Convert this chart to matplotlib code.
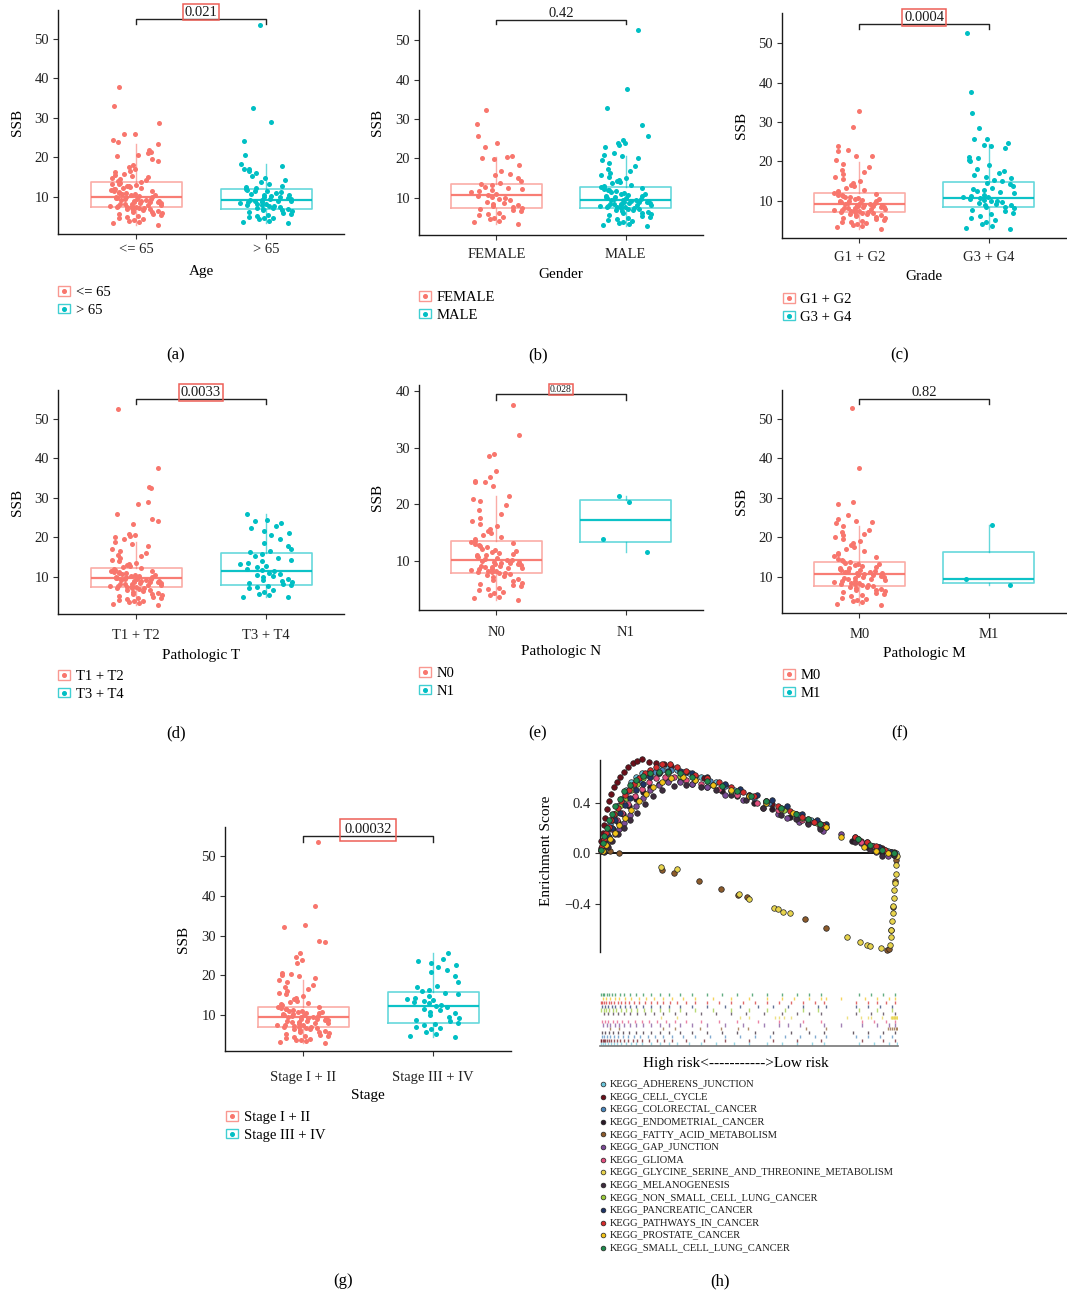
import numpy as np
import matplotlib.pyplot as plt
from matplotlib.patches import Patch
from matplotlib.lines import Line2D
from matplotlib.legend_handler import HandlerTuple

plt.rcParams['font.family'] = ['Liberation Serif', 'DejaVu Serif']

W, H = 1067, 1295
RED, TEAL = '#F8766D', '#00BFC4'
PRED = '#EE5F57'


def vals(s):
    return np.array(s.split(), float)


# ---------------- box panels: SSB values per group + box stats (lo, q1, med, q3, hi)
a_groups = ["<= 65", "> 65"]
a_pts = [vals("3.0 3.3 3.6 4.0 4.2 4.5 4.7 5.0 5.1 5.4 5.6 5.8 6.0 6.1 6.3 6.5 6.6 6.8 6.9 7.0 7.1 7.2 7.3 7.4 7.5 7.5 7.6 7.7 7.8 7.9 8.0 8.1 8.2 8.3 8.4 8.5 8.6 8.7 8.8 8.9 9.0 9.1 9.2 9.3 9.4 9.5 9.6 9.7 9.8 9.9 10.0 10.1 10.2 10.4 10.5 10.7 10.8 11.0 11.1 11.3 11.4 11.6 11.7 11.9 12.0 12.2 12.3 12.5 12.7 12.9 13.0 13.2 13.4 13.6 13.8 14.0 14.2 14.5 14.8 15.0 15.3 15.6 15.9 16.2 16.6 17.0 17.5 18.0 19.0 19.6 20.3 20.7 21.1 21.5 22.0 23.3 24.0 24.3 25.9 26.0 28.6 33.0 37.8"),
         vals("3.3 3.7 4.0 4.3 4.6 4.8 5.0 5.3 5.5 5.8 6.0 6.2 6.4 6.6 6.8 6.9 7.0 7.1 7.3 7.4 7.6 7.7 7.9 8.0 8.2 8.3 8.5 8.6 8.8 8.9 9.0 9.1 9.2 9.3 9.5 9.6 9.8 9.9 10.1 10.2 10.4 10.6 10.8 11.0 11.2 11.4 11.6 11.8 11.9 12.2 12.5 12.9 13.3 13.8 14.3 14.8 15.3 16.0 16.5 17.0 17.2 17.8 18.3 20.6 24.2 29.0 32.5 53.5")]
a_box = [(2.9, 7.5, 10.0, 13.7, 23.4), (3.3, 6.9, 9.2, 11.9, 18.3)]

b_groups = ["FEMALE", "MALE"]
b_pts = [vals("3.5 3.9 4.3 4.6 4.9 5.2 5.6 6.0 6.3 6.6 6.9 7.2 7.4 7.6 7.9 8.2 8.5 8.8 9.1 9.4 9.7 10.0 10.3 10.6 10.8 11.1 11.4 11.7 12.0 12.3 12.6 12.9 13.2 13.5 13.8 14.3 15.0 15.7 16.2 16.8 18.3 19.8 20.2 20.4 20.6 23.0 24.0 25.8 28.8 32.3"),
         vals("2.8 3.1 3.4 3.7 4.0 4.3 4.5 4.8 5.0 5.3 5.5 5.7 5.9 6.1 6.3 6.5 6.7 6.9 7.0 7.2 7.3 7.4 7.5 7.6 7.7 7.8 7.9 8.0 8.1 8.2 8.3 8.4 8.5 8.6 8.7 8.8 8.9 9.0 9.1 9.2 9.3 9.4 9.5 9.6 9.7 9.8 9.9 10.0 10.2 10.3 10.5 10.6 10.8 10.9 11.1 11.3 11.5 11.7 11.9 12.1 12.3 12.5 12.7 12.9 13.1 13.4 13.7 14.0 14.3 14.6 15.0 15.4 15.8 16.3 16.8 17.3 18.0 18.8 19.5 20.1 20.7 21.0 21.5 23.0 23.3 23.8 24.0 24.6 25.7 28.5 32.8 37.6 52.6")]
b_box = [(3.5, 7.5, 10.7, 13.6, 20.5), (2.8, 7.5, 9.6, 12.8, 20.7)]

c_groups = ["G1 + G2", "G3 + G4"]
c_pts = [vals("3.0 3.3 3.6 3.9 4.2 4.4 4.6 4.8 5.0 5.2 5.4 5.6 5.8 6.0 6.2 6.4 6.5 6.7 6.8 6.9 7.0 7.1 7.2 7.3 7.4 7.5 7.6 7.7 7.8 7.9 8.0 8.1 8.2 8.3 8.4 8.5 8.6 8.7 8.8 8.9 9.0 9.1 9.2 9.3 9.4 9.5 9.6 9.7 9.8 9.9 10.0 10.1 10.3 10.4 10.6 10.7 10.9 11.0 11.2 11.4 11.6 11.8 12.0 12.3 12.6 12.9 13.3 13.7 14.1 14.6 15.1 15.6 16.2 16.8 17.3 17.8 18.6 19.3 20.5 21.3 21.4 22.7 23.0 24.0 28.8 32.7"),
         vals("3.0 3.2 3.6 4.2 4.8 5.3 5.8 6.2 6.6 7.0 7.4 7.8 8.1 8.4 8.6 8.9 9.1 9.3 9.5 9.7 9.9 10.1 10.3 10.5 10.7 10.9 11.1 11.3 11.6 11.9 12.2 12.5 12.8 13.1 13.4 13.8 14.2 14.6 15.0 15.4 15.8 16.2 16.6 17.0 17.5 18.0 19.0 20.0 20.4 20.8 21.2 23.3 23.9 24.1 24.6 25.7 25.7 28.4 32.2 37.5 52.5")]
c_box = [(3.0, 7.1, 9.3, 11.9, 19.8), (3.0, 8.4, 10.8, 14.9, 24.4)]

d_groups = ["T1 + T2", "T3 + T4"]
d_pts = [vals("3.0 3.2 3.4 3.6 3.8 4.0 4.2 4.4 4.6 4.8 5.0 5.2 5.4 5.6 5.8 6.0 6.2 6.4 6.6 6.8 7.0 7.1 7.2 7.3 7.4 7.5 7.6 7.7 7.8 7.9 8.0 8.1 8.2 8.3 8.4 8.5 8.6 8.7 8.8 8.9 9.0 9.1 9.2 9.3 9.4 9.5 9.6 9.7 9.8 9.9 10.0 10.1 10.2 10.3 10.5 10.6 10.7 10.9 11.0 11.2 11.3 11.5 11.6 11.8 12.0 12.2 12.4 12.7 13.0 13.3 13.6 14.0 14.4 14.8 15.2 15.6 16.1 16.6 17.2 17.8 18.4 18.9 19.5 20.0 20.4 20.6 20.9 23.4 24.2 24.6 25.9 28.5 28.9 32.4 32.7 37.6 52.5"),
         vals("4.9 5.0 5.4 5.8 6.3 6.8 7.1 7.4 7.7 7.9 8.1 8.4 8.7 9.0 9.3 9.6 9.9 10.2 10.5 10.8 11.1 11.4 11.7 12.0 12.4 12.8 13.2 13.6 14.0 14.4 14.8 15.3 15.8 16.2 16.6 17.2 17.8 18.5 19.5 20.7 21.2 21.6 22.5 23.0 23.7 24.1 24.3 26.0")]
d_box = [(3.0, 7.5, 9.7, 12.2, 18.9), (4.9, 8.0, 11.4, 16.0, 26.0)]

e_groups = ["N0", "N1"]
e_pts = [vals("3.1 3.4 3.6 4.0 4.3 4.6 4.8 5.0 5.3 5.6 5.8 6.0 6.2 6.5 6.7 6.9 7.1 7.3 7.5 7.7 7.8 7.9 8.0 8.1 8.2 8.3 8.4 8.5 8.6 8.7 8.8 8.9 9.0 9.1 9.2 9.3 9.4 9.5 9.6 9.7 9.8 9.9 10.0 10.1 10.2 10.4 10.5 10.7 10.8 11.0 11.1 11.3 11.4 11.6 11.8 12.0 12.2 12.4 12.6 12.8 13.0 13.2 13.4 13.6 13.9 14.2 14.5 14.9 15.3 15.7 16.1 16.6 17.1 17.6 18.3 19.0 19.8 20.5 21.0 21.5 23.2 23.9 24.0 24.2 24.8 25.9 28.5 28.9 32.3 37.6"),
         vals("11.6 13.9 20.4 21.5")]
e_box = [(3.1, 7.9, 10.1, 13.6, 21.5), (11.6, 13.3, 17.2, 20.7, 21.5)]

f_groups = ["M0", "M1"]
f_pts = [vals("3.0 3.3 3.6 3.9 4.2 4.5 4.8 5.1 5.4 5.7 6.0 6.2 6.4 6.6 6.8 7.0 7.2 7.4 7.6 7.8 7.9 8.0 8.2 8.3 8.5 8.6 8.8 8.9 9.1 9.2 9.4 9.5 9.7 9.8 10.0 10.1 10.3 10.4 10.6 10.7 10.9 11.0 11.2 11.3 11.5 11.6 11.8 11.9 12.1 12.2 12.4 12.6 12.8 13.0 13.2 13.4 13.6 13.8 14.0 14.3 14.6 15.0 15.4 15.8 16.2 16.6 17.0 17.5 18.0 18.5 19.0 19.6 20.2 20.6 21.0 21.4 22.0 22.9 23.7 24.0 24.2 24.7 25.8 28.5 28.9 37.6 52.8"),
         vals("7.9 9.4 23.1")]
f_box = [(3.0, 7.8, 10.7, 13.8, 22.9), (7.9, 8.6, 9.4, 16.3, 23.1)]

g_groups = ["Stage I + II", "Stage III + IV"]
g_pts = [vals("3.0 3.2 3.4 3.6 3.8 4.0 4.2 4.4 4.6 4.8 5.0 5.2 5.4 5.6 5.8 6.0 6.2 6.4 6.5 6.7 6.8 6.9 7.0 7.1 7.2 7.4 7.5 7.6 7.8 7.9 8.0 8.2 8.3 8.4 8.6 8.7 8.8 9.0 9.1 9.2 9.3 9.4 9.5 9.6 9.7 9.8 9.9 10.0 10.1 10.2 10.3 10.4 10.6 10.7 10.8 11.0 11.1 11.2 11.4 11.5 11.7 11.9 12.1 12.4 12.7 13.0 13.3 13.6 14.0 14.4 14.8 15.2 15.6 16.0 16.5 17.0 17.6 18.2 18.8 19.3 19.7 20.1 20.4 20.6 23.2 23.8 24.5 25.6 28.3 28.7 32.1 32.6 37.5 53.5"),
         vals("4.4 4.7 5.2 5.8 6.4 6.8 7.1 7.4 7.7 8.0 8.4 8.8 9.2 9.6 10.0 10.4 10.8 11.2 11.6 12.0 12.3 12.6 12.9 13.2 13.5 13.8 14.1 14.4 14.8 15.2 15.6 16.0 16.4 17.0 17.4 18.2 19.8 20.8 21.3 22.0 22.6 23.1 23.6 24.0 25.6")]
g_box = [(3.0, 7.0, 9.5, 11.9, 18.8), (4.4, 7.9, 12.3, 15.7, 25.7)]

# ---------------- GSEA panel: hit positions (rank fraction) and running enrichment score
kegg_names = ["KEGG_ADHERENS_JUNCTION", "KEGG_CELL_CYCLE", "KEGG_COLORECTAL_CANCER",
              "KEGG_ENDOMETRIAL_CANCER", "KEGG_FATTY_ACID_METABOLISM", "KEGG_GAP_JUNCTION",
              "KEGG_GLIOMA", "KEGG_GLYCINE_SERINE_AND_THREONINE_METABOLISM", "KEGG_MELANOGENESIS",
              "KEGG_NON_SMALL_CELL_LUNG_CANCER", "KEGG_PANCREATIC_CANCER", "KEGG_PATHWAYS_IN_CANCER",
              "KEGG_PROSTATE_CANCER", "KEGG_SMALL_CELL_LUNG_CANCER"]
kegg_colors = ['#6CC5DA', '#6B0F1A', '#4A86BC', '#2B1A28', '#8B5A2B', '#7B4A96', '#E34F7F',
               '#E8D44D', '#3D2B3D', '#9BCB3B', '#1E3466', '#D42B2B', '#F2C318', '#1F8A4C']

x_adherens = [0.004, 0.01, 0.018, 0.027, 0.036, 0.046, 0.058, 0.072, 0.088, 0.105, 0.122, 0.14, 0.17, 0.2, 0.23, 0.26, 0.3, 0.34, 0.39, 0.45, 0.5, 0.56, 0.61, 0.66, 0.71, 0.75, 0.87, 0.92, 0.97, 0.995]
es_adherens = [0.03, 0.08, 0.14, 0.2, 0.26, 0.31, 0.37, 0.43, 0.5, 0.56, 0.6, 0.63, 0.65, 0.67, 0.67, 0.66, 0.63, 0.6, 0.56, 0.5, 0.46, 0.41, 0.36, 0.31, 0.26, 0.22, 0.11, 0.06, 0.02, 0.0]
x_cellcycle = [0.002, 0.005, 0.009, 0.013, 0.018, 0.024, 0.03, 0.038, 0.046, 0.056, 0.067, 0.08, 0.095, 0.11, 0.125, 0.14, 0.165, 0.19, 0.215, 0.24, 0.29, 0.35, 0.42, 0.5, 0.58, 0.66, 0.74, 0.88, 0.95, 0.99]
es_cellcycle = [0.04, 0.1, 0.16, 0.22, 0.28, 0.35, 0.41, 0.47, 0.52, 0.56, 0.6, 0.64, 0.68, 0.71, 0.73, 0.74, 0.72, 0.71, 0.7, 0.69, 0.64, 0.59, 0.54, 0.46, 0.39, 0.31, 0.23, 0.1, 0.04, 0.01]
x_colorectal = [0.006, 0.014, 0.024, 0.035, 0.048, 0.062, 0.078, 0.095, 0.115, 0.135, 0.16, 0.185, 0.21, 0.24, 0.28, 0.32, 0.37, 0.42, 0.47, 0.52, 0.57, 0.62, 0.67, 0.72, 0.76, 0.86, 0.9, 0.94, 0.98]
es_colorectal = [0.03, 0.09, 0.16, 0.23, 0.3, 0.37, 0.43, 0.49, 0.54, 0.58, 0.62, 0.64, 0.66, 0.66, 0.64, 0.61, 0.57, 0.53, 0.49, 0.44, 0.4, 0.35, 0.3, 0.25, 0.21, 0.12, 0.08, 0.05, 0.01]
x_endometrial = [0.008, 0.018, 0.03, 0.044, 0.06, 0.078, 0.098, 0.12, 0.145, 0.17, 0.2, 0.23, 0.27, 0.31, 0.36, 0.41, 0.46, 0.52, 0.58, 0.64, 0.7, 0.75, 0.85, 0.9, 0.95, 0.99]
es_endometrial = [0.02, 0.07, 0.13, 0.19, 0.25, 0.31, 0.37, 0.43, 0.48, 0.52, 0.55, 0.57, 0.57, 0.55, 0.52, 0.49, 0.45, 0.4, 0.35, 0.29, 0.24, 0.2, 0.1, 0.05, 0.0, -0.01]
x_fatty = [0.034, 0.065, 0.21, 0.25, 0.334, 0.406, 0.464, 0.496, 0.69, 0.76, 0.965, 0.974, 0.98, 0.986, 0.992, 0.997]
es_fatty = [0.018, 0.0, -0.13, -0.156, -0.22, -0.28, -0.325, -0.34, -0.515, -0.59, -0.76, -0.75, -0.6, -0.42, -0.22, -0.05]
x_gap = [0.01, 0.022, 0.035, 0.05, 0.065, 0.08, 0.1, 0.12, 0.145, 0.17, 0.2, 0.23, 0.27, 0.31, 0.36, 0.42, 0.48, 0.55, 0.6, 0.63, 0.67, 0.75, 0.81, 0.88, 0.93, 0.97, 0.99]
es_gap = [0.02, 0.06, 0.1, 0.15, 0.19, 0.24, 0.3, 0.37, 0.44, 0.5, 0.54, 0.56, 0.56, 0.55, 0.52, 0.46, 0.42, 0.36, 0.31, 0.28, 0.25, 0.18, 0.15, 0.08, 0.01, -0.02, -0.01]
x_glioma = [0.006, 0.016, 0.028, 0.042, 0.058, 0.075, 0.095, 0.118, 0.14, 0.165, 0.19, 0.22, 0.25, 0.29, 0.34, 0.4, 0.46, 0.53, 0.6, 0.68, 0.74, 0.88, 0.92, 0.96, 0.99]
es_glioma = [0.02, 0.07, 0.13, 0.19, 0.26, 0.32, 0.39, 0.45, 0.51, 0.56, 0.59, 0.6, 0.6, 0.58, 0.55, 0.51, 0.46, 0.4, 0.34, 0.26, 0.21, 0.09, 0.06, 0.03, 0.0]
x_glycine = [0.205, 0.258, 0.469, 0.5, 0.587, 0.6, 0.617, 0.64, 0.83, 0.875, 0.9, 0.91, 0.945, 0.977, 0.979, 0.981, 0.983, 0.985, 0.987, 0.989, 0.991, 0.993, 0.995, 0.997, 0.999]
es_glycine = [-0.106, -0.12, -0.32, -0.355, -0.43, -0.44, -0.46, -0.47, -0.66, -0.7, -0.72, -0.725, -0.74, -0.72, -0.66, -0.6, -0.53, -0.47, -0.41, -0.35, -0.29, -0.23, -0.16, -0.09, -0.02]
x_melano = [0.012, 0.026, 0.042, 0.06, 0.08, 0.1, 0.125, 0.15, 0.18, 0.21, 0.25, 0.29, 0.34, 0.39, 0.44, 0.49, 0.55, 0.61, 0.66, 0.7, 0.74, 0.86, 0.91, 0.95, 0.99]
es_melano = [0.01, 0.05, 0.1, 0.15, 0.2, 0.26, 0.32, 0.39, 0.45, 0.5, 0.53, 0.54, 0.52, 0.5, 0.46, 0.42, 0.36, 0.3, 0.27, 0.23, 0.19, 0.09, 0.03, -0.02, -0.01]
x_nsclc = [0.005, 0.012, 0.021, 0.031, 0.042, 0.055, 0.07, 0.086, 0.104, 0.124, 0.146, 0.17, 0.2, 0.23, 0.27, 0.32, 0.38, 0.44, 0.5, 0.56, 0.62, 0.68, 0.73, 0.87, 0.93, 0.98]
es_nsclc = [0.03, 0.08, 0.14, 0.2, 0.26, 0.32, 0.38, 0.44, 0.5, 0.55, 0.59, 0.62, 0.63, 0.63, 0.61, 0.58, 0.54, 0.49, 0.45, 0.4, 0.34, 0.28, 0.24, 0.11, 0.05, 0.01]
x_pancreatic = [0.007, 0.016, 0.027, 0.039, 0.052, 0.067, 0.084, 0.102, 0.122, 0.145, 0.17, 0.2, 0.23, 0.27, 0.31, 0.36, 0.42, 0.47, 0.53, 0.58, 0.63, 0.68, 0.73, 0.76, 0.86, 0.9, 0.94, 0.98]
es_pancreatic = [0.03, 0.08, 0.14, 0.2, 0.26, 0.32, 0.38, 0.44, 0.5, 0.55, 0.6, 0.63, 0.65, 0.65, 0.63, 0.6, 0.55, 0.51, 0.46, 0.42, 0.37, 0.31, 0.26, 0.23, 0.13, 0.09, 0.05, 0.01]
x_pathways = [0.003, 0.008, 0.014, 0.021, 0.029, 0.038, 0.048, 0.059, 0.071, 0.084, 0.098, 0.113, 0.13, 0.15, 0.17, 0.19, 0.21, 0.235, 0.26, 0.29, 0.32, 0.36, 0.4, 0.44, 0.48, 0.52, 0.56, 0.6, 0.64, 0.68, 0.72, 0.75, 0.86, 0.9, 0.93, 0.96, 0.99]
es_pathways = [0.02, 0.06, 0.11, 0.16, 0.21, 0.26, 0.31, 0.36, 0.41, 0.46, 0.5, 0.55, 0.59, 0.63, 0.66, 0.68, 0.7, 0.7, 0.68, 0.65, 0.62, 0.59, 0.56, 0.52, 0.48, 0.45, 0.41, 0.37, 0.33, 0.29, 0.25, 0.22, 0.13, 0.09, 0.06, 0.03, 0.0]
x_prostate = [0.01, 0.02, 0.035, 0.05, 0.065, 0.085, 0.105, 0.13, 0.155, 0.18, 0.21, 0.24, 0.28, 0.32, 0.38, 0.44, 0.5, 0.56, 0.61, 0.65, 0.7, 0.74, 0.76, 0.81, 0.89, 0.93, 0.97, 0.99]
es_prostate = [0.02, 0.07, 0.11, 0.16, 0.22, 0.28, 0.34, 0.41, 0.47, 0.52, 0.56, 0.59, 0.6, 0.58, 0.54, 0.5, 0.45, 0.4, 0.35, 0.32, 0.27, 0.23, 0.21, 0.13, 0.05, 0.02, 0.0, 0.0]
x_sclc = [0.004, 0.009, 0.015, 0.022, 0.03, 0.04, 0.052, 0.066, 0.082, 0.1, 0.12, 0.145, 0.17, 0.2, 0.23, 0.27, 0.31, 0.36, 0.41, 0.46, 0.51, 0.56, 0.61, 0.66, 0.7, 0.74, 0.87, 0.91, 0.95, 0.99]
es_sclc = [0.03, 0.08, 0.14, 0.2, 0.26, 0.31, 0.37, 0.43, 0.49, 0.54, 0.58, 0.61, 0.63, 0.64, 0.64, 0.63, 0.6, 0.57, 0.53, 0.49, 0.45, 0.41, 0.36, 0.31, 0.27, 0.23, 0.11, 0.07, 0.03, 0.0]

kegg_x = [x_adherens, x_cellcycle, x_colorectal, x_endometrial, x_fatty, x_gap, x_glioma,
          x_glycine, x_melano, x_nsclc, x_pancreatic, x_pathways, x_prostate, x_sclc]
kegg_es = [es_adherens, es_cellcycle, es_colorectal, es_endometrial, es_fatty, es_gap, es_glioma,
           es_glycine, es_melano, es_nsclc, es_pancreatic, es_pathways, es_prostate, es_sclc]
es_ticks = [-0.4, 0.0, 0.4]
es_ticklabels = ["\u22120.4", "0.0", "0.4"]

# ---------------- figure
fig = plt.figure(figsize=(W / 100, H / 100), dpi=100)


def fx(x):
    return x / W


def fy(y):
    return 1 - y / H


def px_axes(l, t, r, b):
    return fig.add_axes([l / W, 1 - b / H, (r - l) / W, (b - t) / H])


def jitter(n):
    # deterministic scatter offsets in [-0.5, 0.5) (hash of the index)
    i = np.arange(n) + 1.0
    return (np.sin(i * 12.9898) * 43758.5453) % 1.0 - 0.5


def style_axes(ax, xpad=3):
    for s in ('top', 'right'):
        ax.spines[s].set_visible(False)
    for s in ('left', 'bottom'):
        ax.spines[s].set_color('#1a1a1a')
        ax.spines[s].set_linewidth(1.0)
    ax.tick_params(length=3.5, width=0.8, color='#333333', labelsize=10.5,
                   labelcolor='#222222', pad=3)
    ax.tick_params(axis='x', pad=xpad)


def box_panel(rect, ylim, yticks, groups, pts, box, xlabel, ptext, boxed, bracket,
              leg_xy, ylab_x, xlab_y, tag, tag_xy, pfs=10.5, ppad=0.12, xpad=3):
    ax = px_axes(*rect)
    for i, (v, st, c) in enumerate(zip(pts, box, (RED, TEAL))):
        lo, q1, med, q3, hi = st
        ax.bxp([dict(whislo=lo, q1=q1, med=med, q3=q3, whishi=hi, fliers=[])],
               positions=[i + 1], widths=0.7, showcaps=False, showfliers=False,
               manage_ticks=False,
               boxprops=dict(color=c, alpha=0.6, lw=1.2),
               whiskerprops=dict(color=c, alpha=0.6, lw=1.0),
               medianprops=dict(color=c, alpha=0.95, lw=1.6))
        ax.scatter(i + 1 + 0.4 * jitter(len(v)), v, s=13, color=c, lw=0, zorder=3)
    ax.set_xlim(0.4, 2.6)
    ax.set_ylim(*ylim)
    ax.set_xticks([1, 2])
    ax.set_xticklabels(groups)
    ax.set_yticks(yticks)
    style_axes(ax, xpad)

    y0, y1 = bracket
    ax.plot([1, 1, 2, 2], [y0, y1, y1, y0], color='#222222', lw=1.0, clip_on=False)
    kw = dict(ha='center', va='bottom', fontsize=pfs, color='#1a1a1a', clip_on=False)
    if boxed:
        kw['bbox'] = dict(boxstyle='square,pad=%g' % ppad, fc='none', ec=PRED, lw=1.1)
    ax.text(1.5, y1, ptext, **kw)

    ax.set_ylabel('SSB', fontsize=11)
    ax.yaxis.set_label_coords(fx(ylab_x), fy((rect[1] + rect[3]) / 2), transform=fig.transFigure)
    ax.yaxis.label.set_va('center')
    ax.set_xlabel(xlabel, fontsize=11)
    ax.xaxis.set_label_coords(fx((rect[0] + rect[2]) / 2), fy(xlab_y), transform=fig.transFigure)
    ax.xaxis.label.set_va('center')

    handles = [(Patch(fc='white', ec=c, lw=1.0, alpha=0.75),
                Line2D([], [], color=c, marker='o', ms=2.6, ls='none')) for c in (RED, TEAL)]
    ax.legend(handles, groups, handler_map={tuple: HandlerTuple(ndivide=1, pad=0)},
              loc='upper left', bbox_to_anchor=(fx(leg_xy[0]), fy(leg_xy[1] - 8)),
              bbox_transform=fig.transFigure, frameon=False, borderpad=0, borderaxespad=0,
              handlelength=0.85, handleheight=0.65, handletextpad=0.35, labelspacing=0.32,
              fontsize=10.5)
    fig.text(fx(tag_xy[0]), fy(tag_xy[1]), tag, ha='center', va='center', fontsize=12)
    return ax


Y5 = [10, 20, 30, 40, 50]
box_panel((58, 10, 344, 234), (0.63, 57.3), Y5, a_groups, a_pts, a_box, 'Age', '0.021', True,
          (53.8, 55.1), (58, 294), 18, 271, '(a)', (176, 355), xpad=3)
box_panel((419, 10, 703, 235), (0.63, 57.6), Y5, b_groups, b_pts, b_box, 'Gender', '0.42', False,
          (54.0, 55.06), (419, 299), 378, 275, '(b)', (538, 355), xpad=6)
box_panel((782, 13, 1066, 238), (0.63, 57.6), Y5, c_groups, c_pts, c_box, 'Grade', '0.0004', True,
          (53.5, 54.8), (783, 301), 741, 277, '(c)', (900, 355), xpad=6)
box_panel((58, 390, 344, 614), (0.63, 57.3), Y5, d_groups, d_pts, d_box, 'Pathologic T', '0.0033', True,
          (53.8, 55.06), (58, 678), 18, 655, '(d)', (176, 733), xpad=7)
box_panel((419, 385, 703, 610), (1.35, 41.06), [10, 20, 30, 40], e_groups, e_pts, e_box, 'Pathologic N',
          '0.028', True, (38.4, 39.5), (419, 675), 378, 652, '(e)', (538, 733), pfs=7, xpad=8)
box_panel((782, 390, 1066, 613), (0.9, 57.3), Y5, f_groups, f_pts, f_box, 'Pathologic M', '0.82', False,
          (53.8, 55.06), (783, 677), 741, 653, '(f)', (900, 733), xpad=7)
box_panel((225, 827, 511, 1051), (0.94, 57.3), Y5, g_groups, g_pts, g_box, 'Stage', '0.00032', True,
          (53.5, 55.0), (226, 1119), 184, 1095, '(g)', (343, 1281), ppad=0.3, xpad=11)

# ---------------- (h) GSEA running enrichment score
axh = px_axes(600, 760, 897, 952)
axh.axhline(0, color='black', lw=1.3, zorder=1)
for x, e, c in zip(kegg_x, kegg_es, kegg_colors):
    axh.plot(x, e, ls='none', marker='o', ms=4.0, mfc=c, mec='#222222', mew=0.5,
             clip_on=False, zorder=3)
axh.set_xlim(0, 1)
axh.set_ylim(-0.775, 0.735)
axh.set_xticks([])
axh.set_yticks(es_ticks)
axh.set_yticklabels(es_ticklabels)
style_axes(axh)
axh.spines['bottom'].set_visible(False)
axh.set_ylabel('Enrichment Score', fontsize=11)
axh.yaxis.set_label_coords(fx(547), fy(851), transform=fig.transFigure)
axh.yaxis.label.set_va('center')

# hit rug below
axr = px_axes(600, 993, 898, 1046)
for i, (x, c) in enumerate(zip(kegg_x, kegg_colors)):
    axr.vlines(x, i + 0.1, i + 0.95, color=c, lw=1.0, alpha=0.7)
axr.set_xlim(0, 1)
axr.set_ylim(0, len(kegg_x))
axr.set_xticks([])
axr.set_yticks([])
for s in ('top', 'right', 'left'):
    axr.spines[s].set_visible(False)
axr.spines['bottom'].set_color('#777777')
axr.spines['bottom'].set_linewidth(1.2)
axr.set_xlabel('High risk<----------->Low risk', fontsize=11)
axr.xaxis.set_label_coords(fx(736), fy(1063), transform=fig.transFigure)
axr.xaxis.label.set_va('center')

# pathway key
axl = px_axes(596, 1078, 905, 1254)
axl.axis('off')
axl.set_xlim(0, 1)
axl.set_ylim((176 - 6) / 12.6, -6 / 12.6)
for i, (name, c) in enumerate(zip(kegg_names, kegg_colors)):
    axl.plot([0.024], [i], ls='none', marker='o', ms=3.4, mfc=c, mec='#222222', mew=0.5)
    axl.text(0.045, i, name, va='center', ha='left', fontsize=7.5, color='#1a1a1a')

fig.text(fx(720), fy(1281), '(h)', ha='center', va='center', fontsize=12)

fig.savefig('out.png', dpi=100)
